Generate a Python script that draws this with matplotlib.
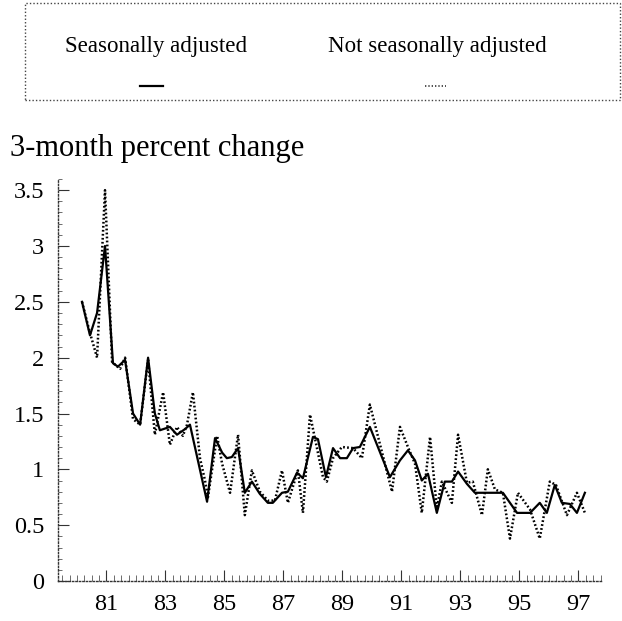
import matplotlib
matplotlib.use("Agg")
import matplotlib.pyplot as plt
from matplotlib.patches import Rectangle
from matplotlib.lines import Line2D
from matplotlib.ticker import MultipleLocator

plt.rcParams['font.family'] = ['Liberation Serif', 'DejaVu Serif']

# Seasonally adjusted series: (year since 1900, 3-month percent change)
sa_years = [80.17, 80.44, 80.68, 80.95, 81.22, 81.39, 81.63, 81.90, 82.14, 82.41,
            82.64, 82.81, 83.15, 83.39, 83.66, 83.83, 84.41, 84.68, 84.92, 85.08,
            85.25, 85.46, 85.69, 85.93, 86.20, 86.47, 86.64, 86.95, 87.15, 87.46,
            87.66, 88.00, 88.17, 88.44, 88.68, 88.92, 89.15, 89.36, 89.59, 89.93,
            90.61, 90.95, 91.22, 91.46, 91.69, 91.90, 92.20, 92.47, 92.71, 92.92,
            93.22, 93.49, 94.17, 94.44, 94.92, 95.36, 95.69, 95.93, 96.20, 96.44,
            96.71, 96.95, 97.22]
sa_values = [2.50, 2.20, 2.40, 3.00, 1.95, 1.92, 1.98, 1.50, 1.40, 2.00,
             1.50, 1.35, 1.38, 1.31, 1.36, 1.40, 0.71, 1.28, 1.15, 1.10,
             1.11, 1.19, 0.79, 0.89, 0.78, 0.70, 0.70, 0.79, 0.80, 0.97,
             0.92, 1.29, 1.27, 0.93, 1.19, 1.10, 1.10, 1.19, 1.20, 1.38,
             0.93, 1.08, 1.17, 1.08, 0.90, 0.96, 0.61, 0.89, 0.89, 0.98,
             0.87, 0.79, 0.79, 0.79, 0.61, 0.61, 0.70, 0.61, 0.86, 0.70,
             0.69, 0.61, 0.79]

# Not seasonally adjusted series
nsa_years = [80.17, 80.41, 80.68, 80.95, 81.19, 81.46, 81.63, 81.90, 82.14, 82.41,
             82.64, 82.92, 83.15, 83.39, 83.59, 83.73, 83.93, 84.17, 84.34, 84.44,
             84.75, 84.92, 85.19, 85.46, 85.69, 85.93, 86.20, 86.47, 86.71, 86.95,
             87.15, 87.49, 87.66, 87.90, 88.34, 88.47, 88.68, 88.98, 89.36, 89.66,
             89.93, 90.68, 90.95, 91.22, 91.46, 91.69, 91.97, 92.20, 92.37, 92.71,
             92.92, 93.22, 93.42, 93.73, 93.93, 94.17, 94.44, 94.68, 94.95, 95.36,
             95.69, 96.03, 96.24, 96.61, 96.95, 97.22]
nsa_values = [2.50, 2.25, 2.00, 3.50, 1.96, 1.90, 2.00, 1.45, 1.40, 1.98,
              1.31, 1.69, 1.22, 1.38, 1.30, 1.40, 1.69, 1.10, 0.90, 0.75,
              1.30, 1.05, 0.79, 1.31, 0.59, 0.99, 0.80, 0.72, 0.72, 0.99,
              0.70, 0.99, 0.61, 1.49, 0.93, 0.89, 1.10, 1.20, 1.19, 1.10,
              1.58, 0.80, 1.38, 1.20, 1.05, 0.61, 1.29, 0.65, 0.89, 0.70,
              1.31, 0.88, 0.89, 0.59, 1.00, 0.82, 0.79, 0.38, 0.79, 0.64,
              0.38, 0.89, 0.86, 0.59, 0.79, 0.61]

ytick_values = [0, 0.5, 1, 1.5, 2, 2.5, 3, 3.5]
ytick_labels = ['0', '0.5', '1', '1.5', '2', '2.5', '3', '3.5']
xtick_years = [81, 83, 85, 87, 89, 91, 93, 95, 97]
xtick_labels = ['81', '83', '85', '87', '89', '91', '93', '95', '97']

legend_labels = ['Seasonally adjusted', 'Not seasonally adjusted']
title = '3-month percent change'

W, H = 622, 621
fig = plt.figure(figsize=(W / 100, H / 100), dpi=100)

# --- main axes ---
ax_left, ax_right, ax_top, ax_bottom = 58, 602, 179, 581
ax = fig.add_axes([ax_left / W, 1 - ax_bottom / H, (ax_right - ax_left) / W,
                   (ax_bottom - ax_top) / H])

nsa_x = [1900 + y for y in nsa_years]
sa_x = [1900 + y for y in sa_years]
ax.plot(nsa_x, nsa_values, color='black', lw=1.8, linestyle=(0, (0.7, 0.9)))
ax.plot(sa_x, sa_values, color='black', lw=1.6)

ax.set_xlim(1979.356, 1997.8)
ax.set_ylim(0, 3.6)

ax.set_yticks(ytick_values)
ax.set_yticklabels(ytick_labels)
ax.yaxis.set_minor_locator(MultipleLocator(0.1))
ax.set_xticks([1900 + y for y in xtick_years])
ax.set_xticklabels(xtick_labels)
ax.xaxis.set_minor_locator(MultipleLocator(0.25))

for s in ['top', 'right']:
    ax.spines[s].set_visible(False)
for s in ['left', 'bottom']:
    ax.spines[s].set_linestyle((0, (1, 1.5)))
    ax.spines[s].set_linewidth(1.0)
    ax.spines[s].set_color('#333333')

ax.tick_params(axis='y', which='major', direction='in', length=8, width=0.8,
               labelsize=17.5, pad=10, colors='#333333', labelcolor='black')
ax.tick_params(axis='y', which='minor', direction='in', length=3, width=0.6,
               colors='#555555')
ax.tick_params(axis='x', which='major', direction='in', length=8, width=0.8,
               labelsize=17.5, pad=9, colors='#333333', labelcolor='black')
ax.tick_params(axis='x', which='minor', direction='in', length=4, width=0.6,
               colors='#555555')
ax.patch.set_visible(False)

# --- title above plot ---
fig.text(10 / W, 1 - 156 / H, title, ha='left', va='baseline', fontsize=22)

# --- legend box ---
box = Rectangle((25 / W, 1 - 100 / H), (620 - 25) / W, (100 - 3) / H,
                transform=fig.transFigure, fill=False, edgecolor='#444444',
                linewidth=1.0, linestyle=(0, (1, 1.5)))
fig.add_artist(box)
fig.text(156 / W, 1 - 52 / H, legend_labels[0], ha='center', va='baseline', fontsize=16.6)
fig.text(437 / W, 1 - 52 / H, legend_labels[1], ha='center', va='baseline', fontsize=16.6)
fig.add_artist(Line2D([140 / W, 163 / W], [1 - 86 / H, 1 - 86 / H],
                      transform=fig.transFigure, color='black', lw=1.6))
fig.add_artist(Line2D([425 / W, 446 / W], [1 - 86 / H, 1 - 86 / H],
                      transform=fig.transFigure, color='#333333', lw=1.2,
                      linestyle=(0, (0.8, 1.2))))

fig.savefig('out.png', dpi=100)
